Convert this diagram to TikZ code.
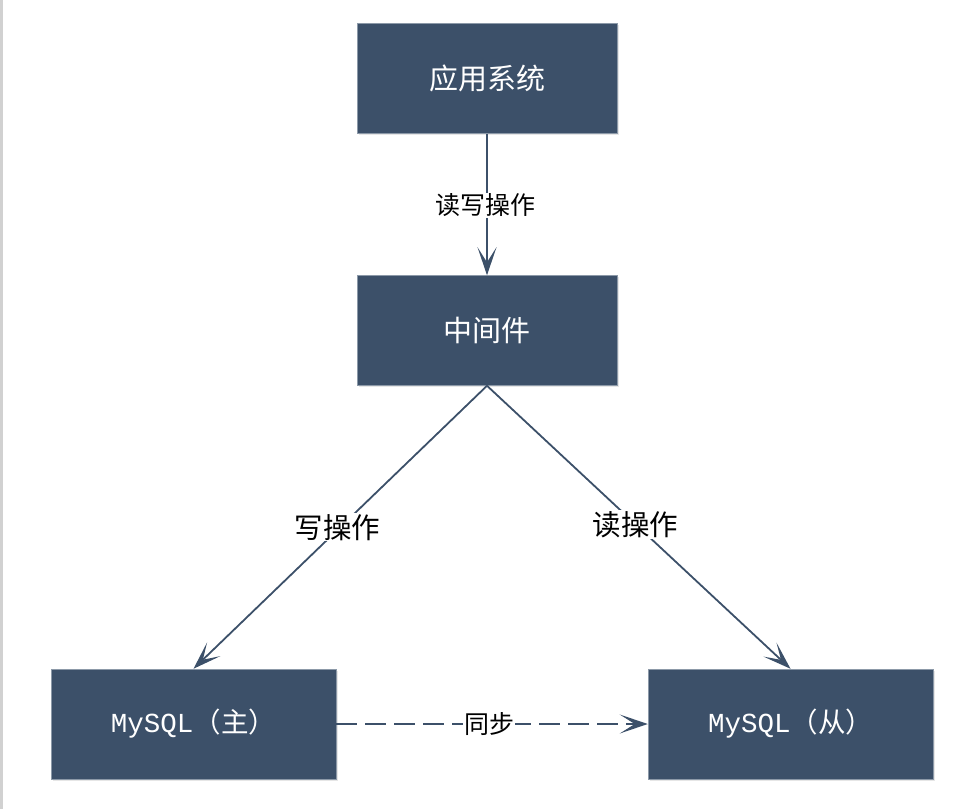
\documentclass[tikz,border=0pt]{standalone}
\usepackage{fontspec}
\setmainfont{Noto Sans CJK SC}
\newfontfamily\latinfont{Liberation Mono}
\usepackage{tikz}
\usetikzlibrary{arrows.meta,shadows}
\definecolor{ardoise}{HTML}{3C5069}
\definecolor{bordure}{HTML}{8C99A8}
\tikzset{sysnode/.style={
    fill=ardoise,
    draw=bordure,
    line width=0.5pt,
    text=white,
    font=\fontsize{29}{29}\selectfont,
    drop shadow={opacity=0.2,shadow xshift=1.5pt,shadow yshift=-1.5pt},
    minimum width=260pt,
    minimum height=110pt,
    inner sep=0pt}}
\tikzset{dbnode/.style={
    sysnode,
    font=\fontsize{27.5}{27.5}\selectfont,
    minimum width=285pt}}
\tikzset{linkedge/.style={
    draw=ardoise,
    line width=1.8pt,
    -{Stealth[length=28pt,width=19pt,inset=15pt]}}}
\tikzset{linklabel/.style={
    fill=white,
    text=black,
    inner sep=1pt,
    font=\fontsize{25}{25}\selectfont}}
\tikzset{biglabel/.style={
    linklabel,
    font=\fontsize{28.5}{28.5}\selectfont}}

\begin{document}
\begin{tikzpicture}[x=1pt,y=-1pt]
	\useasboundingbox (0,0) rectangle (969,809);
	\fill[black!18] (0,0) rectangle (2.5,809);

	\node[sysnode] (app) at (487,78.5) {应用系统};
	\node[sysnode] (middle) at (487,330.5) {中间件};
	\node[dbnode] (master) at (193.5,724) {{\latinfont MySQL}（主）};
	\node[dbnode] (slave) at (790.5,724) {{\latinfont MySQL}（从）};

	\path[linkedge] (app) -- node[linklabel,pos=0.5,xshift=-2pt,yshift=-1pt] (rw) {读写操作} (middle);
	\path[linkedge] (middle.south) -- node[biglabel,pos=0.5,xshift=-3pt] (wr) {写操作} (master.north);
	\path[linkedge] (middle.south) -- node[biglabel,pos=0.49] (rd) {读操作} (slave.north);
	\path[linkedge,dash pattern=on 21pt off 8pt] (master) -- node[linklabel,xshift=-3pt] (sync) {同步} (slave);
\end{tikzpicture}
\end{document}
